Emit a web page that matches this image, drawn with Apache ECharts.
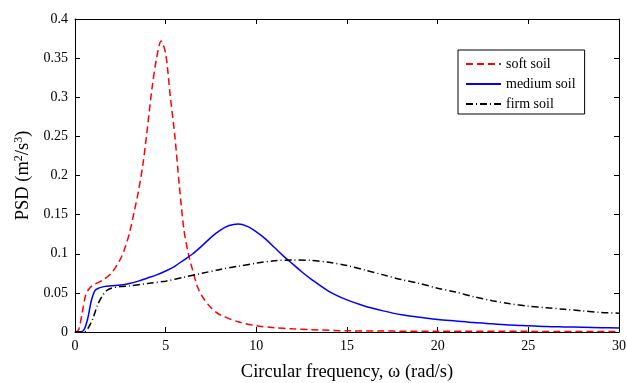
<!DOCTYPE html>
<html>
<head>
<meta charset="utf-8">
<script src="https://cdn.jsdelivr.net/npm/echarts@6/dist/echarts.min.js"></script>
<style>
html,body{margin:0;padding:0;background:#fff;}
#c{width:627px;height:383px;}
</style>
</head>
<body>
<div id="c"></div>
<script>
// x tick values
const xTicks = [0, 5, 10, 15, 20, 25, 30];
const yTicks = [0, 0.05, 0.1, 0.15, 0.2, 0.25, 0.3, 0.35, 0.4];

// soft soil
const omegaSoft = [0, 0.2, 0.4, 0.6, 0.8, 1.0, 1.5, 2.0, 2.5, 2.75, 3.0, 3.25, 3.5, 3.75, 4.0, 4.25, 4.5, 4.75, 5.0, 5.25, 5.5, 5.75, 6.0, 6.25, 6.5, 6.75, 7.0, 7.5, 8.0, 9.0, 10, 11, 12, 13, 15, 20, 25, 30];
const psdSoft   = [0, 0.003, 0.025, 0.048, 0.056, 0.060, 0.066, 0.075, 0.093, 0.107, 0.126, 0.152, 0.180, 0.215, 0.262, 0.312, 0.350, 0.372, 0.356, 0.302, 0.252, 0.188, 0.132, 0.100, 0.078, 0.058, 0.046, 0.031, 0.022, 0.013, 0.008, 0.0055, 0.004, 0.003, 0.0015, 0.001, 0.0008, 0.0006];

// medium soil
const omegaMedium = [0, 0.3, 0.5, 0.7, 0.9, 1.1, 1.3, 1.6, 2.0, 2.5, 3.0, 3.5, 4.0, 4.5, 5.0, 5.5, 6.0, 6.5, 7.0, 7.5, 8.0, 8.5, 9.0, 9.5, 10.0, 10.5, 11.0, 11.5, 12.0, 12.5, 13.0, 14.0, 15.0, 16.0, 17.0, 18.0, 19.0, 20.0, 21.0, 22.0, 23.0, 24.0, 25.0, 26.0, 27.0, 28.0, 29.0, 30.0];
const psdMedium   = [0, 0, 0.003, 0.017, 0.040, 0.053, 0.056, 0.058, 0.059, 0.060, 0.062, 0.065, 0.069, 0.073, 0.078, 0.084, 0.092, 0.100, 0.110, 0.121, 0.130, 0.136, 0.138, 0.135, 0.128, 0.119, 0.108, 0.097, 0.087, 0.077, 0.068, 0.052, 0.041, 0.033, 0.027, 0.022, 0.019, 0.016, 0.014, 0.012, 0.0105, 0.009, 0.008, 0.007, 0.0065, 0.006, 0.0055, 0.005];

// firm soil
const omegaFirm = [0, 0.5, 0.75, 1.0, 1.25, 1.5, 1.75, 2.0, 2.5, 3.0, 4.0, 5.0, 6.0, 7.0, 8.0, 9.0, 10.0, 11.0, 12.0, 13.0, 14.0, 15.0, 16.0, 17.0, 18.0, 19.0, 20.0, 21.0, 22.0, 23.0, 24.0, 25.0, 26.0, 27.0, 28.0, 29.0, 30.0];
const psdFirm   = [0, 0, 0.006, 0.018, 0.035, 0.046, 0.053, 0.056, 0.058, 0.059, 0.062, 0.065, 0.070, 0.075, 0.080, 0.084, 0.088, 0.091, 0.092, 0.0915, 0.089, 0.085, 0.079, 0.073, 0.067, 0.062, 0.056, 0.051, 0.045, 0.040, 0.036, 0.033, 0.031, 0.029, 0.027, 0.025, 0.024];

const seriesNames = ['soft soil', 'medium soil', 'firm soil'];

function pairs(xs, ys) { return xs.map((x, i) => [x, ys[i]]); }

const FONT = '"Liberation Serif", "Times New Roman", serif';
const chart = echarts.init(document.getElementById('c'), null, {renderer: 'canvas'});

const baseAxis = {
  axisLine: {show: true, onZero: false, lineStyle: {color: '#000', width: 1}},
  axisTick: {show: true, inside: true, length: 5, lineStyle: {color: '#000'}},
  splitLine: {show: false}
};

chart.setOption({
  backgroundColor: '#fff',
  animation: false,
  grid: {left: 75, right: 8, top: 19, bottom: 51, containLabel: false, outerBoundsMode: 'none'},
  legend: {
    orient: 'vertical',
    left: 458, top: 50,
    padding: [7, 9, 3, 7],
    itemWidth: 35, itemHeight: 14, itemGap: 6,
    borderColor: '#000', borderWidth: 1,
    backgroundColor: '#fff',
    itemStyle: {opacity: 0},
    textStyle: {fontFamily: FONT, fontSize: 14, color: '#000'},
    data: seriesNames
  },
  xAxis: [
    Object.assign({}, baseAxis, {
      type: 'value', min: xTicks[0], max: xTicks[xTicks.length - 1], interval: 5,
      position: 'bottom',
      axisLabel: {fontFamily: FONT, fontSize: 14, color: '#000', margin: 7},
      name: 'Circular frequency, ω (rad/s)',
      nameLocation: 'middle', nameGap: 31,
      nameTextStyle: {fontFamily: FONT, fontSize: 18.5, color: '#000'}
    }),
    Object.assign({}, baseAxis, {
      type: 'value', min: xTicks[0], max: xTicks[xTicks.length - 1], interval: 5,
      position: 'top', axisLabel: {show: false}
    })
  ],
  yAxis: [
    Object.assign({}, baseAxis, {
      type: 'value', min: yTicks[0], max: yTicks[yTicks.length - 1], interval: 0.05,
      position: 'left',
      axisLabel: {fontFamily: FONT, fontSize: 14, color: '#000', margin: 7},
      name: '{a|PSD (m}{s|2}{a|/s}{s|3}{a|)}',
      nameLocation: 'middle', nameGap: 38, nameRotate: 90,
      nameTextStyle: {
        fontFamily: FONT, fontSize: 18.5, color: '#000',
        rich: {
          a: {fontFamily: FONT, fontSize: 18.5, color: '#000'},
          s: {fontFamily: FONT, fontSize: 12, color: '#000', verticalAlign: 'top', padding: [0, 0, 8, 0]}
        }
      }
    }),
    Object.assign({}, baseAxis, {
      type: 'value', min: yTicks[0], max: yTicks[yTicks.length - 1], interval: 0.05,
      position: 'right', axisLabel: {show: false}
    })
  ],
  series: [
    {
      name: seriesNames[0], type: 'line', data: pairs(omegaSoft, psdSoft),
      smooth: 0.3, showSymbol: false, symbol: 'none',
      lineStyle: {color: '#ff0000', width: 1.5, type: [7, 4]},
      itemStyle: {color: '#ff0000'}
    },
    {
      name: seriesNames[1], type: 'line', data: pairs(omegaMedium, psdMedium),
      smooth: 0.3, showSymbol: false, symbol: 'none',
      lineStyle: {color: '#0000ff', width: 1.5, type: 'solid'},
      itemStyle: {color: '#0000ff'}
    },
    {
      name: seriesNames[2], type: 'line', data: pairs(omegaFirm, psdFirm),
      smooth: 0.3, showSymbol: false, symbol: 'none',
      lineStyle: {color: '#000000', width: 1.5, type: [7, 3, 1, 3]},
      itemStyle: {color: '#000000'}
    }
  ]
});
</script>
</body>
</html>
